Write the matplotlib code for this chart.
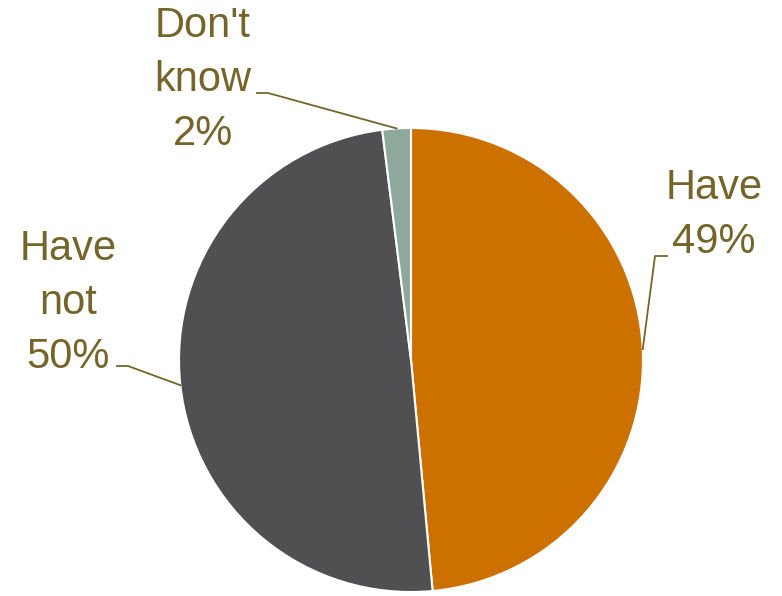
import numpy as np
import matplotlib.pyplot as plt

plt.rcParams['font.family'] = ['Liberation Sans', 'DejaVu Sans']

labels = ['Have', 'Have\nnot', "Don't\nknow"]
values = [49, 50, 2]
colors = ['#CC7000', '#505053', '#8FA89C']
text_color = '#76652A'

W, H = 782, 596
fig = plt.figure(figsize=(W / 100, H / 100), dpi=100)
ax = fig.add_axes([0, 0, 1, 1])

cx, cy, r = 411, H - 360, 232
wedges, _ = ax.pie(values, colors=colors, startangle=90, counterclock=False,
                   center=(cx, cy), radius=r, frame=True,
                   wedgeprops=dict(edgecolor='white', linewidth=1.5))
ax.set_xlim(0, W)
ax.set_ylim(0, H)
ax.set_aspect('equal')
ax.axis('off')

# label text positions and leader line elbows (pixel coords, y from top)
text_pos = [(714, 215), (68, 303), (203, 80)]
elbows = [((667, 256), (655, 256)),
          ((117, 366), (128, 366)),
          ((257, 93), (268, 93))]

total = sum(values)
for w, lab, v, (tx, ty), (p0, p1) in zip(wedges, labels, values, text_pos, elbows):
    ang = np.deg2rad((w.theta1 + w.theta2) / 2)
    ex, ey = cx + r * np.cos(ang), cy + r * np.sin(ang)
    ax.text(tx, H - ty, f'{lab}\n{round(v / total * 100)}%', ha='center', va='center',
            fontsize=30, color=text_color, linespacing=1.45)
    ax.plot([p0[0], p1[0], ex], [H - p0[1], H - p1[1], ey], color=text_color, lw=1.3)

fig.savefig('out.png', dpi=100)
